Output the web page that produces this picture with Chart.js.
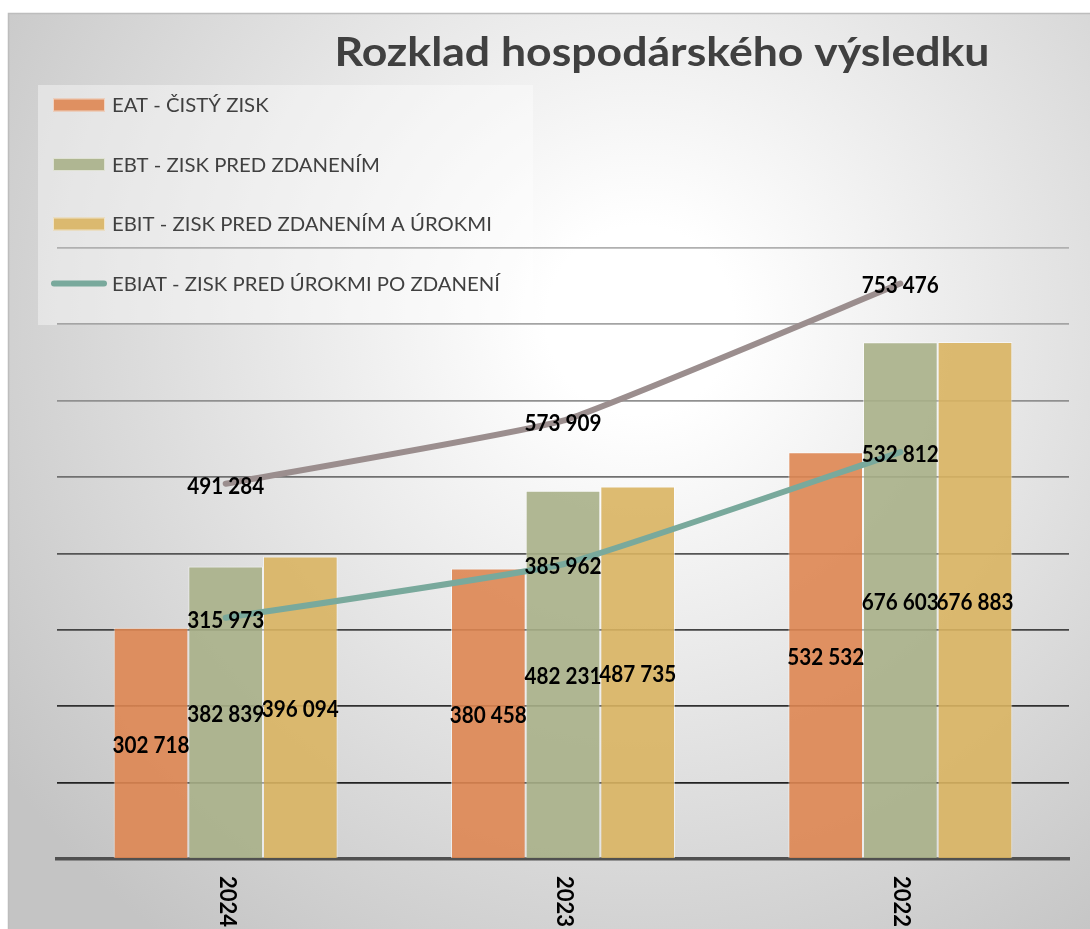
<!DOCTYPE html>
<html><head><meta charset="utf-8">
<script src="https://cdn.jsdelivr.net/npm/chart.js@4.4.1/dist/chart.umd.min.js"></script>
<style>html,body{margin:0;padding:0;background:#fff;}canvas{display:block;}</style>
</head><body>
<canvas id="c" width="1090" height="929"></canvas>
<script>
// ---- data ----
const categories = ['2024', '2023', '2022'];
const eatValues = [302718, 380458, 532532];
const ebtValues = [382839, 482231, 676603];
const ebitValues = [396094, 487735, 676883];
const ebiatValues = [315973, 385962, 532812];
const unlabeledLineValues = [491284, 573909, 753476];
const seriesNames = ['EAT - ČISTÝ ZISK', 'EBT - ZISK PRED ZDANENÍM', 'EBIT - ZISK PRED ZDANENÍM A ÚROKMI', 'EBIAT - ZISK PRED ÚROKMI PO ZDANENÍ'];
const yMin = 0, yMax = 800000, yStep = 100000;
const titleText = 'Rozklad hospodárského výsledku';

const fmt = n => String(n).replace(/\B(?=(\d{3})+(?!\d))/g, ' ');

const gridColors = ['#505050', '#222', '#303030', '#444', '#555', '#707070', '#909090', '#a4a4a4', '#b0b0b0'];

// draw text stretched horizontally to a target width
function fitText(ctx, text, x, y, targetW, align) {
  const w = ctx.measureText(text).width;
  const s = targetW / w;
  ctx.save();
  ctx.translate(x, y);
  ctx.scale(s, 1);
  ctx.textAlign = align;
  ctx.fillText(text, 0, 0);
  ctx.restore();
}

const bgPlugin = {
  id: 'bg',
  beforeDraw(chart) {
    const ctx = chart.ctx, W = chart.width, H = chart.height;
    ctx.save();
    ctx.fillStyle = '#fff';
    ctx.fillRect(0, 0, W, H);
    const g = ctx.createRadialGradient(640, 320, 0, 640, 320, 780);
    g.addColorStop(0, '#ffffff');
    g.addColorStop(0.12, '#ffffff');
    g.addColorStop(1, '#c4c4c4');
    ctx.fillStyle = g;
    ctx.fillRect(8, 13, W - 8, H - 13);
    ctx.strokeStyle = '#bdbdbd';
    ctx.lineWidth = 1.5;
    ctx.beginPath();
    ctx.moveTo(8.5, H); ctx.lineTo(8.5, 13.5); ctx.lineTo(W, 13.5);
    ctx.stroke();
    // legend backdrop
    ctx.fillStyle = 'rgba(255,255,255,0.4)';
    ctx.fillRect(38, 85, 495, 240);
    ctx.restore();
  }
};

const labelPlugin = {
  id: 'labels',
  afterDatasetsDraw(chart) {
    const ctx = chart.ctx;
    ctx.save();
    ctx.font = 'bold 23px Lato';
    ctx.fillStyle = '#000';
    ctx.textAlign = 'center';
    ctx.textBaseline = 'middle';
    chart.data.datasets.forEach((ds, i) => {
      const meta = chart.getDatasetMeta(i);
      meta.data.forEach((el, j) => {
        const v = ds.data[j];
        let x = el.x, y = el.y;
        if (ds.type === 'bar') {
          y = (el.y + el.base) / 2;
        }
        fitText(ctx, fmt(v), x, y + 2.5, 77, 'center');
      });
    });
    ctx.restore();
  },
  afterDraw(chart) {
    const ctx = chart.ctx;
    ctx.save();
    // title
    ctx.font = 'bold 40px Lato';
    ctx.fillStyle = '#404040';
    ctx.textBaseline = 'alphabetic';
    fitText(ctx, titleText, 662, 66, 655, 'center');
    // legend
    ctx.font = '19.5px Lato';
    ctx.textBaseline = 'middle';
    const legendDs = chart.data.datasets.filter(d => d.label);
    legendDs.forEach((ds, i) => {
      const cy = 105 + i * 59.5;
      if (ds.type === 'line') {
        ctx.strokeStyle = ds.borderColor;
        ctx.lineWidth = 6;
        ctx.lineCap = 'round';
        ctx.beginPath();
        ctx.moveTo(54, cy); ctx.lineTo(104, cy);
        ctx.stroke();
      } else {
        ctx.fillStyle = ds.backgroundColor;
        ctx.fillRect(53, cy - 6.5, 52, 13);
        ctx.strokeStyle = 'rgba(255,255,255,0.6)';
        ctx.lineWidth = 1;
        ctx.strokeRect(53.5, cy - 6, 51, 12);
      }
      ctx.fillStyle = '#404040';
      const s = 388 / ctx.measureText(legendDs[legendDs.length - 1].label).width;
      ctx.save();
      ctx.translate(112, cy + 1);
      ctx.scale(s, 1);
      ctx.textAlign = 'left';
      ctx.fillText(ds.label, 0, 0);
      ctx.restore();
    });
    // x axis labels rotated clockwise
    const xs = chart.scales.x;
    ctx.font = 'bold 22px Lato';
    ctx.fillStyle = '#000';
    ctx.textAlign = 'left';
    ctx.textBaseline = 'middle';
    categories.forEach((c, i) => {
      const x = xs.getPixelForValue(i);
      ctx.save();
      ctx.translate(x + 1, 876);
      ctx.rotate(Math.PI / 2);
      ctx.fillText(c, 0, 0);
      ctx.restore();
    });
    ctx.restore();
  }
};

new Chart(document.getElementById('c'), {
  type: 'bar',
  data: {
    labels: categories,
    datasets: [
      { type: 'bar', label: seriesNames[0], data: eatValues, backgroundColor: 'rgba(222,134,82,0.9)', borderColor: 'rgba(255,255,255,0.55)', borderWidth: 1, order: 2 },
      { type: 'bar', label: seriesNames[1], data: ebtValues, backgroundColor: 'rgba(168,176,136,0.9)', borderColor: 'rgba(255,255,255,0.55)', borderWidth: 1, order: 2 },
      { type: 'bar', label: seriesNames[2], data: ebitValues, backgroundColor: 'rgba(217,180,98,0.9)', borderColor: 'rgba(255,255,255,0.55)', borderWidth: 1, order: 2 },
      { type: 'line', label: seriesNames[3], data: ebiatValues, borderColor: '#79a99c', backgroundColor: '#79a99c', borderWidth: 6, pointRadius: 0, tension: 0.12, borderCapStyle: 'round', order: 1 },
      { type: 'line', label: '', data: unlabeledLineValues, borderColor: '#9b8e8e', backgroundColor: '#9b8e8e', borderWidth: 6, pointRadius: 0, tension: 0.12, borderCapStyle: 'round', order: 1 }
    ]
  },
  options: {
    responsive: false,
    animation: false,
    devicePixelRatio: 1,
    layout: { padding: { left: 57, right: 21, top: 248, bottom: 70 } },
    datasets: { bar: { categoryPercentage: 0.664, barPercentage: 1.0 } },
    plugins: { legend: { display: false }, title: { display: false }, tooltip: { enabled: false } },
    scales: {
      x: {
        offset: true,
        grid: { display: false, drawTicks: false },
        ticks: { display: false },
        border: { display: true, color: '#505050', width: 3.5 }
      },
      y: {
        min: yMin, max: yMax,
        ticks: { display: false, stepSize: yStep },
        grid: { drawTicks: false, lineWidth: 1.8, color: c => gridColors[c.index] || '#888' },
        border: { display: false }
      }
    }
  },
  plugins: [bgPlugin, labelPlugin]
});
</script>
</body></html>
